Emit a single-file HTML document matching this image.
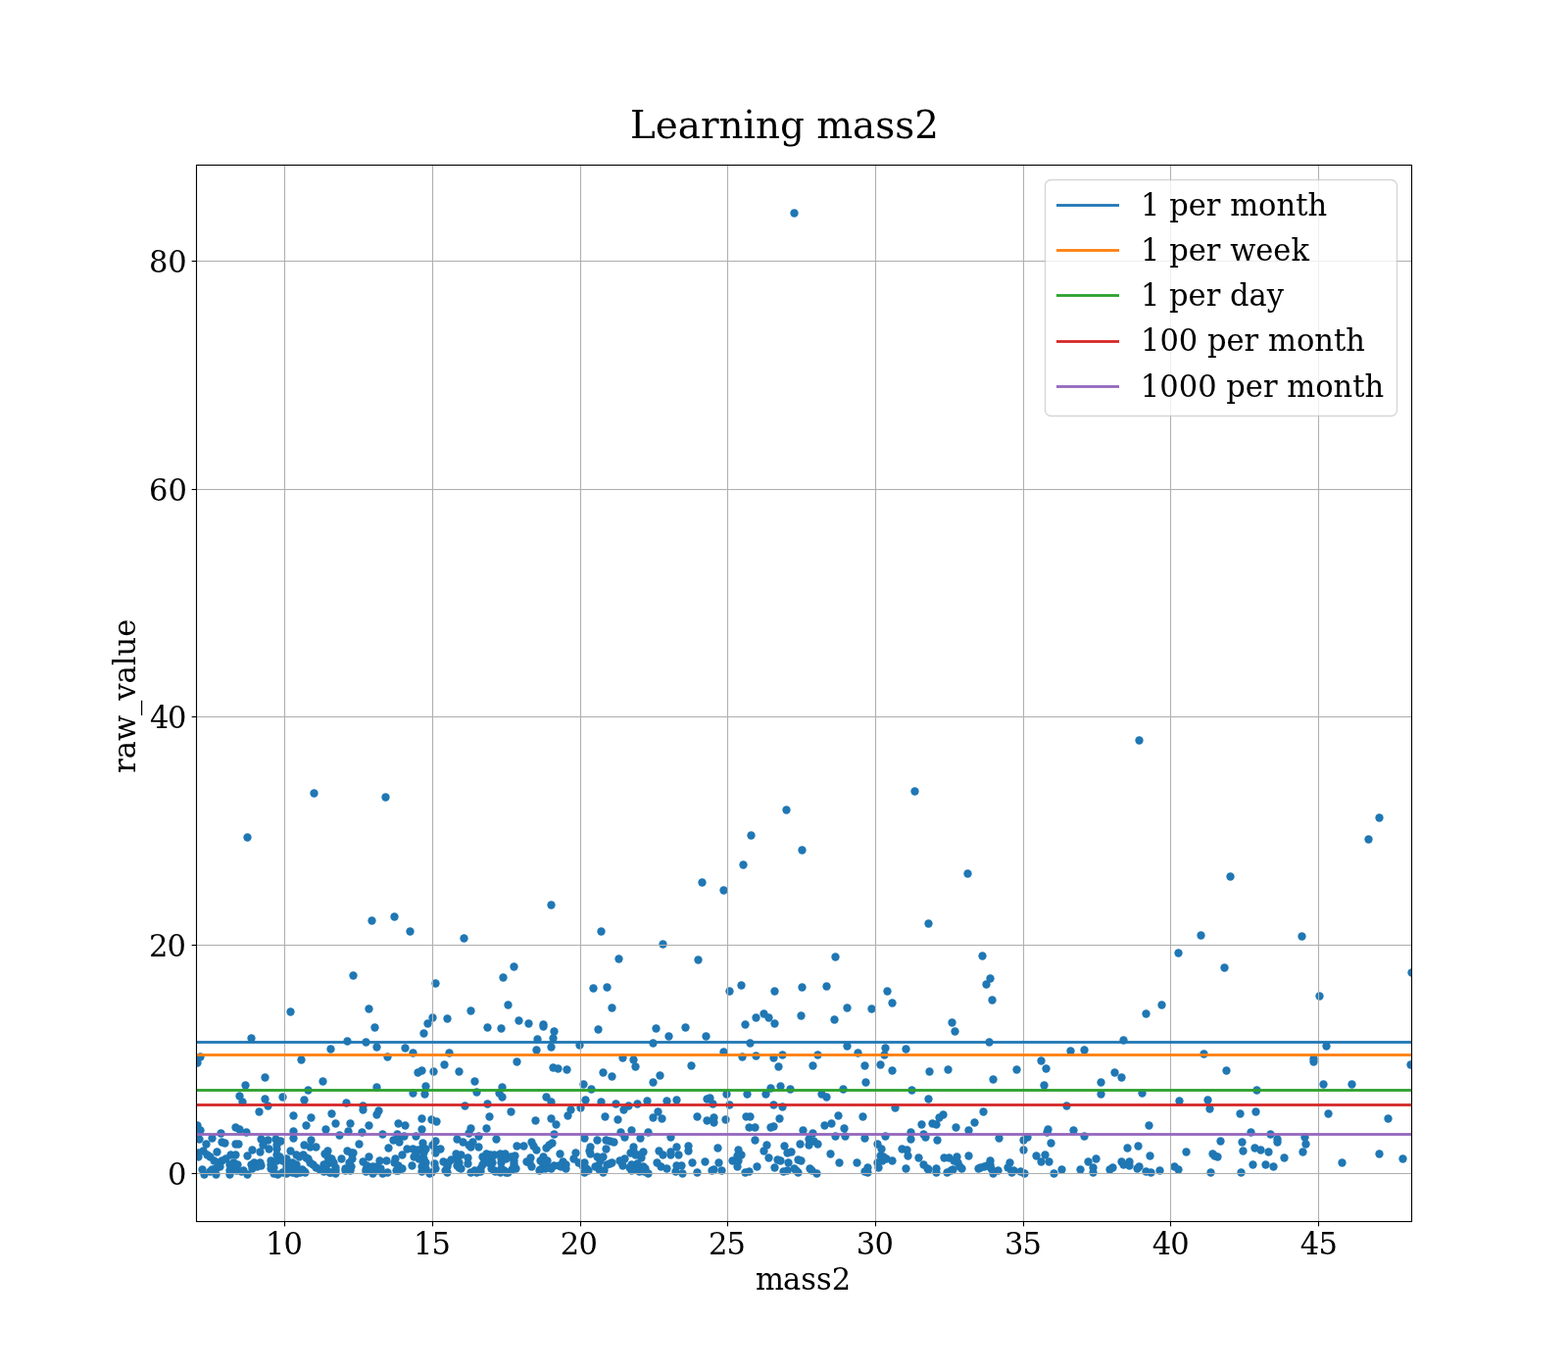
<!DOCTYPE html>
<html lang="en"><head><meta charset="utf-8"><title>Learning mass2</title>
<style>
html,body{margin:0;padding:0;background:#fff;}
body{width:1600px;height:1400px;overflow:hidden;}
svg{display:block;}
text{font-family:'DejaVu Serif', 'Liberation Serif', serif;fill:#000;}
.t{font-size:30.5556px;}
.title{font-size:38.8889px;}
.grid{fill:#b0b0b0;}
.tick{fill:#000;}
.spine{stroke:#000;stroke-width:1.1111;fill:none;stroke-linecap:square;}
.pt{fill:#1f77b4;}
</style></head><body>
<svg width="1600" height="1400" viewBox="0 0 1600 1400">
<defs><clipPath id="ax"><rect x="200" y="168" width="1240" height="1078"/></clipPath></defs>
<rect x="0" y="0" width="1600" height="1400" fill="#fff"/>
<g class="pt" clip-path="url(#ax)">
<circle cx="810.5" cy="217.5" r="4.17"/>
<circle cx="1162.5" cy="755.5" r="4.17"/>
<circle cx="933.5" cy="807.5" r="4.17"/>
<circle cx="320.5" cy="809.5" r="4.17"/>
<circle cx="393.5" cy="813.5" r="4.17"/>
<circle cx="802.5" cy="826.5" r="4.17"/>
<circle cx="1407.5" cy="834.5" r="4.17"/>
<circle cx="766.5" cy="852.5" r="4.17"/>
<circle cx="252.5" cy="854.5" r="4.17"/>
<circle cx="1396.5" cy="856.5" r="4.17"/>
<circle cx="818.5" cy="867.5" r="4.17"/>
<circle cx="758.5" cy="882.5" r="4.17"/>
<circle cx="987.5" cy="891.5" r="4.17"/>
<circle cx="1255.5" cy="894.5" r="4.17"/>
<circle cx="716.5" cy="900.5" r="4.17"/>
<circle cx="738.5" cy="908.5" r="4.17"/>
<circle cx="562.5" cy="923.5" r="4.17"/>
<circle cx="402.5" cy="935.5" r="4.17"/>
<circle cx="379.5" cy="939.5" r="4.17"/>
<circle cx="947.5" cy="942.5" r="4.17"/>
<circle cx="418.5" cy="950.5" r="4.17"/>
<circle cx="613.5" cy="950.5" r="4.17"/>
<circle cx="1225.5" cy="954.5" r="4.17"/>
<circle cx="1328.5" cy="955.5" r="4.17"/>
<circle cx="473.5" cy="957.5" r="4.17"/>
<circle cx="676.5" cy="963.5" r="4.17"/>
<circle cx="1202.5" cy="972.5" r="4.17"/>
<circle cx="1002.5" cy="975.5" r="4.17"/>
<circle cx="852.5" cy="976.5" r="4.17"/>
<circle cx="631.5" cy="978.5" r="4.17"/>
<circle cx="712.5" cy="979.5" r="4.17"/>
<circle cx="524.5" cy="986.5" r="4.17"/>
<circle cx="1249.5" cy="987.5" r="4.17"/>
<circle cx="1440.5" cy="992.5" r="4.17"/>
<circle cx="360.5" cy="995.5" r="4.17"/>
<circle cx="513.5" cy="997.5" r="4.17"/>
<circle cx="1010.5" cy="998.5" r="4.17"/>
<circle cx="444.5" cy="1003.5" r="4.17"/>
<circle cx="1006.5" cy="1004.5" r="4.17"/>
<circle cx="756.5" cy="1005.5" r="4.17"/>
<circle cx="843.5" cy="1006.5" r="4.17"/>
<circle cx="619.5" cy="1007.5" r="4.17"/>
<circle cx="818.5" cy="1007.5" r="4.17"/>
<circle cx="605.5" cy="1008.5" r="4.17"/>
<circle cx="744.5" cy="1011.5" r="4.17"/>
<circle cx="790.5" cy="1011.5" r="4.17"/>
<circle cx="905.5" cy="1011.5" r="4.17"/>
<circle cx="1346.5" cy="1016.5" r="4.17"/>
<circle cx="1012.5" cy="1020.5" r="4.17"/>
<circle cx="910.5" cy="1023.5" r="4.17"/>
<circle cx="518.5" cy="1025.5" r="4.17"/>
<circle cx="1185.5" cy="1025.5" r="4.17"/>
<circle cx="624.5" cy="1028.5" r="4.17"/>
<circle cx="864.5" cy="1028.5" r="4.17"/>
<circle cx="376.5" cy="1029.5" r="4.17"/>
<circle cx="889.5" cy="1029.5" r="4.17"/>
<circle cx="480.5" cy="1031.5" r="4.17"/>
<circle cx="296.5" cy="1032.5" r="4.17"/>
<circle cx="779.5" cy="1034.5" r="4.17"/>
<circle cx="1169.5" cy="1034.5" r="4.17"/>
<circle cx="817.5" cy="1036.5" r="4.17"/>
<circle cx="441.5" cy="1038.5" r="4.17"/>
<circle cx="771.5" cy="1038.5" r="4.17"/>
<circle cx="784.5" cy="1038.5" r="4.17"/>
<circle cx="456.5" cy="1039.5" r="4.17"/>
<circle cx="851.5" cy="1040.5" r="4.17"/>
<circle cx="529.5" cy="1041.5" r="4.17"/>
<circle cx="971.5" cy="1043.5" r="4.17"/>
<circle cx="436.5" cy="1044.5" r="4.17"/>
<circle cx="539.5" cy="1044.5" r="4.17"/>
<circle cx="790.5" cy="1044.5" r="4.17"/>
<circle cx="554.5" cy="1045.5" r="4.17"/>
<circle cx="760.5" cy="1045.5" r="4.17"/>
<circle cx="554.5" cy="1047.5" r="4.17"/>
<circle cx="382.5" cy="1048.5" r="4.17"/>
<circle cx="497.5" cy="1048.5" r="4.17"/>
<circle cx="699.5" cy="1048.5" r="4.17"/>
<circle cx="511.5" cy="1049.5" r="4.17"/>
<circle cx="669.5" cy="1049.5" r="4.17"/>
<circle cx="610.5" cy="1050.5" r="4.17"/>
<circle cx="565.5" cy="1052.5" r="4.17"/>
<circle cx="974.5" cy="1052.5" r="4.17"/>
<circle cx="432.5" cy="1054.5" r="4.17"/>
<circle cx="682.5" cy="1057.5" r="4.17"/>
<circle cx="720.5" cy="1057.5" r="4.17"/>
<circle cx="256.5" cy="1059.5" r="4.17"/>
<circle cx="564.5" cy="1059.5" r="4.17"/>
<circle cx="548.5" cy="1060.5" r="4.17"/>
<circle cx="1146.5" cy="1061.5" r="4.17"/>
<circle cx="354.5" cy="1062.5" r="4.17"/>
<circle cx="373.5" cy="1063.5" r="4.17"/>
<circle cx="1009.5" cy="1063.5" r="4.17"/>
<circle cx="666.5" cy="1064.5" r="4.17"/>
<circle cx="765.5" cy="1064.5" r="4.17"/>
<circle cx="591.5" cy="1066.5" r="4.17"/>
<circle cx="864.5" cy="1067.5" r="4.17"/>
<circle cx="1353.5" cy="1067.5" r="4.17"/>
<circle cx="384.5" cy="1068.5" r="4.17"/>
<circle cx="562.5" cy="1068.5" r="4.17"/>
<circle cx="413.5" cy="1069.5" r="4.17"/>
<circle cx="903.5" cy="1069.5" r="4.17"/>
<circle cx="337.5" cy="1070.5" r="4.17"/>
<circle cx="924.5" cy="1070.5" r="4.17"/>
<circle cx="547.5" cy="1071.5" r="4.17"/>
<circle cx="1106.5" cy="1071.5" r="4.17"/>
<circle cx="1092.5" cy="1072.5" r="4.17"/>
<circle cx="738.5" cy="1073.5" r="4.17"/>
<circle cx="421.5" cy="1074.5" r="4.17"/>
<circle cx="458.5" cy="1074.5" r="4.17"/>
<circle cx="875.5" cy="1074.5" r="4.17"/>
<circle cx="1228.5" cy="1075.5" r="4.17"/>
<circle cx="798.5" cy="1076.5" r="4.17"/>
<circle cx="834.5" cy="1076.5" r="4.17"/>
<circle cx="902.5" cy="1076.5" r="4.17"/>
<circle cx="771.5" cy="1077.5" r="4.17"/>
<circle cx="204.5" cy="1078.5" r="4.17"/>
<circle cx="395.5" cy="1078.5" r="4.17"/>
<circle cx="757.5" cy="1078.5" r="4.17"/>
<circle cx="635.5" cy="1079.5" r="4.17"/>
<circle cx="789.5" cy="1079.5" r="4.17"/>
<circle cx="1340.5" cy="1080.5" r="4.17"/>
<circle cx="307.5" cy="1081.5" r="4.17"/>
<circle cx="646.5" cy="1081.5" r="4.17"/>
<circle cx="1062.5" cy="1082.5" r="4.17"/>
<circle cx="527.5" cy="1083.5" r="4.17"/>
<circle cx="1340.5" cy="1083.5" r="4.17"/>
<circle cx="201.5" cy="1084.5" r="4.17"/>
<circle cx="453.5" cy="1086.5" r="4.17"/>
<circle cx="898.5" cy="1086.5" r="4.17"/>
<circle cx="1439.5" cy="1086.5" r="4.17"/>
<circle cx="705.5" cy="1087.5" r="4.17"/>
<circle cx="829.5" cy="1087.5" r="4.17"/>
<circle cx="882.5" cy="1087.5" r="4.17"/>
<circle cx="648.5" cy="1088.5" r="4.17"/>
<circle cx="794.5" cy="1088.5" r="4.17"/>
<circle cx="564.5" cy="1089.5" r="4.17"/>
<circle cx="569.5" cy="1090.5" r="4.17"/>
<circle cx="1067.5" cy="1090.5" r="4.17"/>
<circle cx="578.5" cy="1091.5" r="4.17"/>
<circle cx="967.5" cy="1091.5" r="4.17"/>
<circle cx="1037.5" cy="1091.5" r="4.17"/>
<circle cx="430.5" cy="1092.5" r="4.17"/>
<circle cx="910.5" cy="1092.5" r="4.17"/>
<circle cx="1251.5" cy="1092.5" r="4.17"/>
<circle cx="442.5" cy="1093.5" r="4.17"/>
<circle cx="468.5" cy="1093.5" r="4.17"/>
<circle cx="948.5" cy="1093.5" r="4.17"/>
<circle cx="426.5" cy="1094.5" r="4.17"/>
<circle cx="615.5" cy="1094.5" r="4.17"/>
<circle cx="1137.5" cy="1094.5" r="4.17"/>
<circle cx="673.5" cy="1097.5" r="4.17"/>
<circle cx="624.5" cy="1098.5" r="4.17"/>
<circle cx="270.5" cy="1099.5" r="4.17"/>
<circle cx="1144.5" cy="1099.5" r="4.17"/>
<circle cx="1013.5" cy="1101.5" r="4.17"/>
<circle cx="329.5" cy="1103.5" r="4.17"/>
<circle cx="484.5" cy="1103.5" r="4.17"/>
<circle cx="666.5" cy="1104.5" r="4.17"/>
<circle cx="883.5" cy="1104.5" r="4.17"/>
<circle cx="1123.5" cy="1104.5" r="4.17"/>
<circle cx="595.5" cy="1106.5" r="4.17"/>
<circle cx="1350.5" cy="1106.5" r="4.17"/>
<circle cx="1379.5" cy="1106.5" r="4.17"/>
<circle cx="250.5" cy="1107.5" r="4.17"/>
<circle cx="1065.5" cy="1107.5" r="4.17"/>
<circle cx="434.5" cy="1108.5" r="4.17"/>
<circle cx="796.5" cy="1108.5" r="4.17"/>
<circle cx="384.5" cy="1109.5" r="4.17"/>
<circle cx="512.5" cy="1109.5" r="4.17"/>
<circle cx="786.5" cy="1110.5" r="4.17"/>
<circle cx="603.5" cy="1111.5" r="4.17"/>
<circle cx="806.5" cy="1111.5" r="4.17"/>
<circle cx="860.5" cy="1111.5" r="4.17"/>
<circle cx="314.5" cy="1112.5" r="4.17"/>
<circle cx="930.5" cy="1112.5" r="4.17"/>
<circle cx="1282.5" cy="1112.5" r="4.17"/>
<circle cx="486.5" cy="1114.5" r="4.17"/>
<circle cx="421.5" cy="1115.5" r="4.17"/>
<circle cx="509.5" cy="1115.5" r="4.17"/>
<circle cx="1165.5" cy="1115.5" r="4.17"/>
<circle cx="433.5" cy="1116.5" r="4.17"/>
<circle cx="741.5" cy="1116.5" r="4.17"/>
<circle cx="762.5" cy="1116.5" r="4.17"/>
<circle cx="781.5" cy="1116.5" r="4.17"/>
<circle cx="838.5" cy="1116.5" r="4.17"/>
<circle cx="1123.5" cy="1116.5" r="4.17"/>
<circle cx="244.5" cy="1118.5" r="4.17"/>
<circle cx="288.5" cy="1119.5" r="4.17"/>
<circle cx="512.5" cy="1119.5" r="4.17"/>
<circle cx="557.5" cy="1119.5" r="4.17"/>
<circle cx="843.5" cy="1119.5" r="4.17"/>
<circle cx="724.5" cy="1120.5" r="4.17"/>
<circle cx="270.5" cy="1121.5" r="4.17"/>
<circle cx="721.5" cy="1121.5" r="4.17"/>
<circle cx="947.5" cy="1121.5" r="4.17"/>
<circle cx="310.5" cy="1122.5" r="4.17"/>
<circle cx="597.5" cy="1122.5" r="4.17"/>
<circle cx="690.5" cy="1122.5" r="4.17"/>
<circle cx="1232.5" cy="1122.5" r="4.17"/>
<circle cx="660.5" cy="1123.5" r="4.17"/>
<circle cx="680.5" cy="1123.5" r="4.17"/>
<circle cx="1203.5" cy="1123.5" r="4.17"/>
<circle cx="247.5" cy="1124.5" r="4.17"/>
<circle cx="562.5" cy="1124.5" r="4.17"/>
<circle cx="613.5" cy="1124.5" r="4.17"/>
<circle cx="353.5" cy="1125.5" r="4.17"/>
<circle cx="497.5" cy="1126.5" r="4.17"/>
<circle cx="628.5" cy="1126.5" r="4.17"/>
<circle cx="650.5" cy="1126.5" r="4.17"/>
<circle cx="727.5" cy="1126.5" r="4.17"/>
<circle cx="744.5" cy="1127.5" r="4.17"/>
<circle cx="789.5" cy="1127.5" r="4.17"/>
<circle cx="273.5" cy="1128.5" r="4.17"/>
<circle cx="370.5" cy="1128.5" r="4.17"/>
<circle cx="474.5" cy="1128.5" r="4.17"/>
<circle cx="641.5" cy="1128.5" r="4.17"/>
<circle cx="1088.5" cy="1128.5" r="4.17"/>
<circle cx="798.5" cy="1129.5" r="4.17"/>
<circle cx="592.5" cy="1130.5" r="4.17"/>
<circle cx="913.5" cy="1130.5" r="4.17"/>
<circle cx="1234.5" cy="1131.5" r="4.17"/>
<circle cx="370.5" cy="1132.5" r="4.17"/>
<circle cx="582.5" cy="1132.5" r="4.17"/>
<circle cx="636.5" cy="1132.5" r="4.17"/>
<circle cx="386.5" cy="1133.5" r="4.17"/>
<circle cx="264.5" cy="1134.5" r="4.17"/>
<circle cx="521.5" cy="1134.5" r="4.17"/>
<circle cx="671.5" cy="1134.5" r="4.17"/>
<circle cx="1003.5" cy="1134.5" r="4.17"/>
<circle cx="1281.5" cy="1134.5" r="4.17"/>
<circle cx="338.5" cy="1136.5" r="4.17"/>
<circle cx="1265.5" cy="1136.5" r="4.17"/>
<circle cx="1355.5" cy="1136.5" r="4.17"/>
<circle cx="384.5" cy="1137.5" r="4.17"/>
<circle cx="962.5" cy="1137.5" r="4.17"/>
<circle cx="299.5" cy="1138.5" r="4.17"/>
<circle cx="579.5" cy="1138.5" r="4.17"/>
<circle cx="855.5" cy="1138.5" r="4.17"/>
<circle cx="499.5" cy="1139.5" r="4.17"/>
<circle cx="617.5" cy="1139.5" r="4.17"/>
<circle cx="711.5" cy="1139.5" r="4.17"/>
<circle cx="761.5" cy="1139.5" r="4.17"/>
<circle cx="765.5" cy="1139.5" r="4.17"/>
<circle cx="880.5" cy="1139.5" r="4.17"/>
<circle cx="317.5" cy="1140.5" r="4.17"/>
<circle cx="666.5" cy="1140.5" r="4.17"/>
<circle cx="728.5" cy="1140.5" r="4.17"/>
<circle cx="958.5" cy="1140.5" r="4.17"/>
<circle cx="430.5" cy="1141.5" r="4.17"/>
<circle cx="562.5" cy="1141.5" r="4.17"/>
<circle cx="675.5" cy="1141.5" r="4.17"/>
<circle cx="795.5" cy="1141.5" r="4.17"/>
<circle cx="1416.5" cy="1141.5" r="4.17"/>
<circle cx="440.5" cy="1142.5" r="4.17"/>
<circle cx="630.5" cy="1142.5" r="4.17"/>
<circle cx="740.5" cy="1142.5" r="4.17"/>
<circle cx="546.5" cy="1143.5" r="4.17"/>
<circle cx="721.5" cy="1143.5" r="4.17"/>
<circle cx="445.5" cy="1144.5" r="4.17"/>
<circle cx="728.5" cy="1145.5" r="4.17"/>
<circle cx="994.5" cy="1145.5" r="4.17"/>
<circle cx="342.5" cy="1146.5" r="4.17"/>
<circle cx="357.5" cy="1146.5" r="4.17"/>
<circle cx="406.5" cy="1146.5" r="4.17"/>
<circle cx="848.5" cy="1146.5" r="4.17"/>
<circle cx="951.5" cy="1146.5" r="4.17"/>
<circle cx="567.5" cy="1147.5" r="4.17"/>
<circle cx="940.5" cy="1147.5" r="4.17"/>
<circle cx="955.5" cy="1147.5" r="4.17"/>
<circle cx="201.5" cy="1148.5" r="4.17"/>
<circle cx="312.5" cy="1148.5" r="4.17"/>
<circle cx="376.5" cy="1148.5" r="4.17"/>
<circle cx="413.5" cy="1148.5" r="4.17"/>
<circle cx="841.5" cy="1148.5" r="4.17"/>
<circle cx="1172.5" cy="1148.5" r="4.17"/>
<circle cx="789.5" cy="1149.5" r="4.17"/>
<circle cx="240.5" cy="1150.5" r="4.17"/>
<circle cx="764.5" cy="1150.5" r="4.17"/>
<circle cx="770.5" cy="1150.5" r="4.17"/>
<circle cx="786.5" cy="1150.5" r="4.17"/>
<circle cx="975.5" cy="1150.5" r="4.17"/>
<circle cx="480.5" cy="1151.5" r="4.17"/>
<circle cx="496.5" cy="1151.5" r="4.17"/>
<circle cx="861.5" cy="1151.5" r="4.17"/>
<circle cx="244.5" cy="1152.5" r="4.17"/>
<circle cx="332.5" cy="1152.5" r="4.17"/>
<circle cx="430.5" cy="1152.5" r="4.17"/>
<circle cx="1069.5" cy="1152.5" r="4.17"/>
<circle cx="204.5" cy="1153.5" r="4.17"/>
<circle cx="644.5" cy="1153.5" r="4.17"/>
<circle cx="819.5" cy="1153.5" r="4.17"/>
<circle cx="988.5" cy="1153.5" r="4.17"/>
<circle cx="1095.5" cy="1153.5" r="4.17"/>
<circle cx="299.5" cy="1154.5" r="4.17"/>
<circle cx="355.5" cy="1154.5" r="4.17"/>
<circle cx="251.5" cy="1155.5" r="4.17"/>
<circle cx="369.5" cy="1155.5" r="4.17"/>
<circle cx="633.5" cy="1155.5" r="4.17"/>
<circle cx="661.5" cy="1155.5" r="4.17"/>
<circle cx="929.5" cy="1155.5" r="4.17"/>
<circle cx="1068.5" cy="1155.5" r="4.17"/>
<circle cx="1276.5" cy="1155.5" r="4.17"/>
<circle cx="225.5" cy="1156.5" r="4.17"/>
<circle cx="478.5" cy="1156.5" r="4.17"/>
<circle cx="829.5" cy="1156.5" r="4.17"/>
<circle cx="390.5" cy="1157.5" r="4.17"/>
<circle cx="405.5" cy="1157.5" r="4.17"/>
<circle cx="565.5" cy="1157.5" r="4.17"/>
<circle cx="942.5" cy="1157.5" r="4.17"/>
<circle cx="1296.5" cy="1157.5" r="4.17"/>
<circle cx="346.5" cy="1158.5" r="4.17"/>
<circle cx="412.5" cy="1159.5" r="4.17"/>
<circle cx="424.5" cy="1159.5" r="4.17"/>
<circle cx="488.5" cy="1159.5" r="4.17"/>
<circle cx="852.5" cy="1159.5" r="4.17"/>
<circle cx="862.5" cy="1159.5" r="4.17"/>
<circle cx="903.5" cy="1159.5" r="4.17"/>
<circle cx="1106.5" cy="1159.5" r="4.17"/>
<circle cx="407.5" cy="1160.5" r="4.17"/>
<circle cx="637.5" cy="1160.5" r="4.17"/>
<circle cx="684.5" cy="1160.5" r="4.17"/>
<circle cx="944.5" cy="1160.5" r="4.17"/>
<circle cx="1048.5" cy="1160.5" r="4.17"/>
<circle cx="1331.5" cy="1160.5" r="4.17"/>
<circle cx="216.5" cy="1161.5" r="4.17"/>
<circle cx="299.5" cy="1161.5" r="4.17"/>
<circle cx="596.5" cy="1161.5" r="4.17"/>
<circle cx="653.5" cy="1161.5" r="4.17"/>
<circle cx="882.5" cy="1161.5" r="4.17"/>
<circle cx="1019.5" cy="1161.5" r="4.17"/>
<circle cx="203.5" cy="1162.5" r="4.17"/>
<circle cx="266.5" cy="1162.5" r="4.17"/>
<circle cx="281.5" cy="1162.5" r="4.17"/>
<circle cx="466.5" cy="1162.5" r="4.17"/>
<circle cx="506.5" cy="1162.5" r="4.17"/>
<circle cx="825.5" cy="1162.5" r="4.17"/>
<circle cx="929.5" cy="1162.5" r="4.17"/>
<circle cx="1303.5" cy="1162.5" r="4.17"/>
<circle cx="273.5" cy="1163.5" r="4.17"/>
<circle cx="317.5" cy="1163.5" r="4.17"/>
<circle cx="401.5" cy="1163.5" r="4.17"/>
<circle cx="609.5" cy="1163.5" r="4.17"/>
<circle cx="618.5" cy="1163.5" r="4.17"/>
<circle cx="770.5" cy="1163.5" r="4.17"/>
<circle cx="956.5" cy="1163.5" r="4.17"/>
<circle cx="1044.5" cy="1163.5" r="4.17"/>
<circle cx="286.5" cy="1164.5" r="4.17"/>
<circle cx="444.5" cy="1164.5" r="4.17"/>
<circle cx="622.5" cy="1164.5" r="4.17"/>
<circle cx="830.5" cy="1164.5" r="4.17"/>
<circle cx="1245.5" cy="1164.5" r="4.17"/>
<circle cx="226.5" cy="1165.5" r="4.17"/>
<circle cx="407.5" cy="1165.5" r="4.17"/>
<circle cx="472.5" cy="1165.5" r="4.17"/>
<circle cx="482.5" cy="1165.5" r="4.17"/>
<circle cx="542.5" cy="1165.5" r="4.17"/>
<circle cx="626.5" cy="1165.5" r="4.17"/>
<circle cx="1267.5" cy="1165.5" r="4.17"/>
<circle cx="1303.5" cy="1165.5" r="4.17"/>
<circle cx="229.5" cy="1166.5" r="4.17"/>
<circle cx="431.5" cy="1166.5" r="4.17"/>
<circle cx="563.5" cy="1166.5" r="4.17"/>
<circle cx="1072.5" cy="1166.5" r="4.17"/>
<circle cx="210.5" cy="1167.5" r="4.17"/>
<circle cx="240.5" cy="1167.5" r="4.17"/>
<circle cx="243.5" cy="1167.5" r="4.17"/>
<circle cx="366.5" cy="1167.5" r="4.17"/>
<circle cx="816.5" cy="1167.5" r="4.17"/>
<circle cx="834.5" cy="1167.5" r="4.17"/>
<circle cx="895.5" cy="1167.5" r="4.17"/>
<circle cx="1332.5" cy="1167.5" r="4.17"/>
<circle cx="268.5" cy="1168.5" r="4.17"/>
<circle cx="282.5" cy="1168.5" r="4.17"/>
<circle cx="310.5" cy="1168.5" r="4.17"/>
<circle cx="441.5" cy="1168.5" r="4.17"/>
<circle cx="478.5" cy="1168.5" r="4.17"/>
<circle cx="560.5" cy="1168.5" r="4.17"/>
<circle cx="782.5" cy="1168.5" r="4.17"/>
<circle cx="825.5" cy="1168.5" r="4.17"/>
<circle cx="527.5" cy="1169.5" r="4.17"/>
<circle cx="534.5" cy="1169.5" r="4.17"/>
<circle cx="544.5" cy="1169.5" r="4.17"/>
<circle cx="702.5" cy="1169.5" r="4.17"/>
<circle cx="800.5" cy="1169.5" r="4.17"/>
<circle cx="1161.5" cy="1169.5" r="4.17"/>
<circle cx="316.5" cy="1170.5" r="4.17"/>
<circle cx="322.5" cy="1170.5" r="4.17"/>
<circle cx="480.5" cy="1170.5" r="4.17"/>
<circle cx="488.5" cy="1170.5" r="4.17"/>
<circle cx="602.5" cy="1170.5" r="4.17"/>
<circle cx="646.5" cy="1170.5" r="4.17"/>
<circle cx="690.5" cy="1170.5" r="4.17"/>
<circle cx="396.5" cy="1171.5" r="4.17"/>
<circle cx="557.5" cy="1171.5" r="4.17"/>
<circle cx="732.5" cy="1171.5" r="4.17"/>
<circle cx="1150.5" cy="1171.5" r="4.17"/>
<circle cx="1280.5" cy="1171.5" r="4.17"/>
<circle cx="274.5" cy="1172.5" r="4.17"/>
<circle cx="282.5" cy="1172.5" r="4.17"/>
<circle cx="415.5" cy="1172.5" r="4.17"/>
<circle cx="421.5" cy="1172.5" r="4.17"/>
<circle cx="430.5" cy="1172.5" r="4.17"/>
<circle cx="434.5" cy="1172.5" r="4.17"/>
<circle cx="444.5" cy="1172.5" r="4.17"/>
<circle cx="449.5" cy="1172.5" r="4.17"/>
<circle cx="618.5" cy="1172.5" r="4.17"/>
<circle cx="899.5" cy="1172.5" r="4.17"/>
<circle cx="920.5" cy="1172.5" r="4.17"/>
<circle cx="257.5" cy="1173.5" r="4.17"/>
<circle cx="426.5" cy="1173.5" r="4.17"/>
<circle cx="547.5" cy="1173.5" r="4.17"/>
<circle cx="753.5" cy="1173.5" r="4.17"/>
<circle cx="925.5" cy="1173.5" r="4.17"/>
<circle cx="1044.5" cy="1173.5" r="4.17"/>
<circle cx="1286.5" cy="1173.5" r="4.17"/>
<circle cx="207.5" cy="1174.5" r="4.17"/>
<circle cx="296.5" cy="1174.5" r="4.17"/>
<circle cx="334.5" cy="1174.5" r="4.17"/>
<circle cx="354.5" cy="1174.5" r="4.17"/>
<circle cx="601.5" cy="1174.5" r="4.17"/>
<circle cx="646.5" cy="1174.5" r="4.17"/>
<circle cx="672.5" cy="1174.5" r="4.17"/>
<circle cx="702.5" cy="1174.5" r="4.17"/>
<circle cx="779.5" cy="1174.5" r="4.17"/>
<circle cx="1268.5" cy="1174.5" r="4.17"/>
<circle cx="221.5" cy="1175.5" r="4.17"/>
<circle cx="265.5" cy="1175.5" r="4.17"/>
<circle cx="656.5" cy="1175.5" r="4.17"/>
<circle cx="684.5" cy="1175.5" r="4.17"/>
<circle cx="807.5" cy="1175.5" r="4.17"/>
<circle cx="1210.5" cy="1175.5" r="4.17"/>
<circle cx="1294.5" cy="1175.5" r="4.17"/>
<circle cx="1329.5" cy="1175.5" r="4.17"/>
<circle cx="202.5" cy="1176.5" r="4.17"/>
<circle cx="358.5" cy="1176.5" r="4.17"/>
<circle cx="360.5" cy="1176.5" r="4.17"/>
<circle cx="432.5" cy="1176.5" r="4.17"/>
<circle cx="444.5" cy="1176.5" r="4.17"/>
<circle cx="587.5" cy="1176.5" r="4.17"/>
<circle cx="643.5" cy="1176.5" r="4.17"/>
<circle cx="803.5" cy="1176.5" r="4.17"/>
<circle cx="331.5" cy="1177.5" r="4.17"/>
<circle cx="424.5" cy="1177.5" r="4.17"/>
<circle cx="465.5" cy="1177.5" r="4.17"/>
<circle cx="496.5" cy="1177.5" r="4.17"/>
<circle cx="510.5" cy="1177.5" r="4.17"/>
<circle cx="515.5" cy="1177.5" r="4.17"/>
<circle cx="571.5" cy="1177.5" r="4.17"/>
<circle cx="602.5" cy="1177.5" r="4.17"/>
<circle cx="847.5" cy="1177.5" r="4.17"/>
<circle cx="1237.5" cy="1177.5" r="4.17"/>
<circle cx="1407.5" cy="1177.5" r="4.17"/>
<circle cx="211.5" cy="1178.5" r="4.17"/>
<circle cx="235.5" cy="1178.5" r="4.17"/>
<circle cx="240.5" cy="1178.5" r="4.17"/>
<circle cx="282.5" cy="1178.5" r="4.17"/>
<circle cx="302.5" cy="1178.5" r="4.17"/>
<circle cx="309.5" cy="1178.5" r="4.17"/>
<circle cx="410.5" cy="1178.5" r="4.17"/>
<circle cx="470.5" cy="1178.5" r="4.17"/>
<circle cx="500.5" cy="1178.5" r="4.17"/>
<circle cx="504.5" cy="1178.5" r="4.17"/>
<circle cx="648.5" cy="1178.5" r="4.17"/>
<circle cx="652.5" cy="1178.5" r="4.17"/>
<circle cx="676.5" cy="1178.5" r="4.17"/>
<circle cx="684.5" cy="1178.5" r="4.17"/>
<circle cx="692.5" cy="1178.5" r="4.17"/>
<circle cx="756.5" cy="1178.5" r="4.17"/>
<circle cx="1066.5" cy="1178.5" r="4.17"/>
<circle cx="252.5" cy="1179.5" r="4.17"/>
<circle cx="525.5" cy="1179.5" r="4.17"/>
<circle cx="752.5" cy="1179.5" r="4.17"/>
<circle cx="898.5" cy="1179.5" r="4.17"/>
<circle cx="926.5" cy="1179.5" r="4.17"/>
<circle cx="988.5" cy="1179.5" r="4.17"/>
<circle cx="1057.5" cy="1179.5" r="4.17"/>
<circle cx="1173.5" cy="1179.5" r="4.17"/>
<circle cx="1239.5" cy="1179.5" r="4.17"/>
<circle cx="202.5" cy="1180.5" r="4.17"/>
<circle cx="214.5" cy="1180.5" r="4.17"/>
<circle cx="285.5" cy="1180.5" r="4.17"/>
<circle cx="305.5" cy="1180.5" r="4.17"/>
<circle cx="334.5" cy="1180.5" r="4.17"/>
<circle cx="376.5" cy="1180.5" r="4.17"/>
<circle cx="422.5" cy="1180.5" r="4.17"/>
<circle cx="492.5" cy="1180.5" r="4.17"/>
<circle cx="521.5" cy="1180.5" r="4.17"/>
<circle cx="554.5" cy="1180.5" r="4.17"/>
<circle cx="609.5" cy="1180.5" r="4.17"/>
<circle cx="615.5" cy="1180.5" r="4.17"/>
<circle cx="901.5" cy="1180.5" r="4.17"/>
<circle cx="976.5" cy="1180.5" r="4.17"/>
<circle cx="1242.5" cy="1180.5" r="4.17"/>
<circle cx="312.5" cy="1181.5" r="4.17"/>
<circle cx="477.5" cy="1181.5" r="4.17"/>
<circle cx="541.5" cy="1181.5" r="4.17"/>
<circle cx="654.5" cy="1181.5" r="4.17"/>
<circle cx="784.5" cy="1181.5" r="4.17"/>
<circle cx="937.5" cy="1181.5" r="4.17"/>
<circle cx="963.5" cy="1181.5" r="4.17"/>
<circle cx="968.5" cy="1181.5" r="4.17"/>
<circle cx="1310.5" cy="1181.5" r="4.17"/>
<circle cx="230.5" cy="1182.5" r="4.17"/>
<circle cx="292.5" cy="1182.5" r="4.17"/>
<circle cx="314.5" cy="1182.5" r="4.17"/>
<circle cx="338.5" cy="1182.5" r="4.17"/>
<circle cx="348.5" cy="1182.5" r="4.17"/>
<circle cx="359.5" cy="1182.5" r="4.17"/>
<circle cx="403.5" cy="1182.5" r="4.17"/>
<circle cx="427.5" cy="1182.5" r="4.17"/>
<circle cx="432.5" cy="1182.5" r="4.17"/>
<circle cx="466.5" cy="1182.5" r="4.17"/>
<circle cx="501.5" cy="1182.5" r="4.17"/>
<circle cx="511.5" cy="1182.5" r="4.17"/>
<circle cx="516.5" cy="1182.5" r="4.17"/>
<circle cx="585.5" cy="1182.5" r="4.17"/>
<circle cx="612.5" cy="1182.5" r="4.17"/>
<circle cx="637.5" cy="1182.5" r="4.17"/>
<circle cx="904.5" cy="1182.5" r="4.17"/>
<circle cx="1118.5" cy="1182.5" r="4.17"/>
<circle cx="1431.5" cy="1182.5" r="4.17"/>
<circle cx="460.5" cy="1183.5" r="4.17"/>
<circle cx="793.5" cy="1183.5" r="4.17"/>
<circle cx="814.5" cy="1183.5" r="4.17"/>
<circle cx="218.5" cy="1184.5" r="4.17"/>
<circle cx="226.5" cy="1184.5" r="4.17"/>
<circle cx="276.5" cy="1184.5" r="4.17"/>
<circle cx="282.5" cy="1184.5" r="4.17"/>
<circle cx="288.5" cy="1184.5" r="4.17"/>
<circle cx="387.5" cy="1184.5" r="4.17"/>
<circle cx="394.5" cy="1184.5" r="4.17"/>
<circle cx="431.5" cy="1184.5" r="4.17"/>
<circle cx="494.5" cy="1184.5" r="4.17"/>
<circle cx="524.5" cy="1184.5" r="4.17"/>
<circle cx="551.5" cy="1184.5" r="4.17"/>
<circle cx="558.5" cy="1184.5" r="4.17"/>
<circle cx="612.5" cy="1184.5" r="4.17"/>
<circle cx="632.5" cy="1184.5" r="4.17"/>
<circle cx="747.5" cy="1184.5" r="4.17"/>
<circle cx="753.5" cy="1184.5" r="4.17"/>
<circle cx="796.5" cy="1184.5" r="4.17"/>
<circle cx="817.5" cy="1184.5" r="4.17"/>
<circle cx="900.5" cy="1184.5" r="4.17"/>
<circle cx="910.5" cy="1184.5" r="4.17"/>
<circle cx="973.5" cy="1184.5" r="4.17"/>
<circle cx="1010.5" cy="1184.5" r="4.17"/>
<circle cx="370.5" cy="1185.5" r="4.17"/>
<circle cx="452.5" cy="1185.5" r="4.17"/>
<circle cx="537.5" cy="1185.5" r="4.17"/>
<circle cx="574.5" cy="1185.5" r="4.17"/>
<circle cx="719.5" cy="1185.5" r="4.17"/>
<circle cx="1062.5" cy="1185.5" r="4.17"/>
<circle cx="1070.5" cy="1185.5" r="4.17"/>
<circle cx="1110.5" cy="1185.5" r="4.17"/>
<circle cx="1144.5" cy="1185.5" r="4.17"/>
<circle cx="1152.5" cy="1185.5" r="4.17"/>
<circle cx="222.5" cy="1186.5" r="4.17"/>
<circle cx="238.5" cy="1186.5" r="4.17"/>
<circle cx="259.5" cy="1186.5" r="4.17"/>
<circle cx="265.5" cy="1186.5" r="4.17"/>
<circle cx="298.5" cy="1186.5" r="4.17"/>
<circle cx="316.5" cy="1186.5" r="4.17"/>
<circle cx="334.5" cy="1186.5" r="4.17"/>
<circle cx="337.5" cy="1186.5" r="4.17"/>
<circle cx="340.5" cy="1186.5" r="4.17"/>
<circle cx="356.5" cy="1186.5" r="4.17"/>
<circle cx="402.5" cy="1186.5" r="4.17"/>
<circle cx="434.5" cy="1186.5" r="4.17"/>
<circle cx="457.5" cy="1186.5" r="4.17"/>
<circle cx="468.5" cy="1186.5" r="4.17"/>
<circle cx="498.5" cy="1186.5" r="4.17"/>
<circle cx="502.5" cy="1186.5" r="4.17"/>
<circle cx="511.5" cy="1186.5" r="4.17"/>
<circle cx="540.5" cy="1186.5" r="4.17"/>
<circle cx="590.5" cy="1186.5" r="4.17"/>
<circle cx="596.5" cy="1186.5" r="4.17"/>
<circle cx="624.5" cy="1186.5" r="4.17"/>
<circle cx="634.5" cy="1186.5" r="4.17"/>
<circle cx="670.5" cy="1186.5" r="4.17"/>
<circle cx="706.5" cy="1186.5" r="4.17"/>
<circle cx="733.5" cy="1186.5" r="4.17"/>
<circle cx="804.5" cy="1186.5" r="4.17"/>
<circle cx="856.5" cy="1186.5" r="4.17"/>
<circle cx="874.5" cy="1186.5" r="4.17"/>
<circle cx="895.5" cy="1186.5" r="4.17"/>
<circle cx="977.5" cy="1186.5" r="4.17"/>
<circle cx="1030.5" cy="1186.5" r="4.17"/>
<circle cx="1369.5" cy="1186.5" r="4.17"/>
<circle cx="443.5" cy="1187.5" r="4.17"/>
<circle cx="477.5" cy="1187.5" r="4.17"/>
<circle cx="524.5" cy="1187.5" r="4.17"/>
<circle cx="622.5" cy="1187.5" r="4.17"/>
<circle cx="650.5" cy="1187.5" r="4.17"/>
<circle cx="234.5" cy="1188.5" r="4.17"/>
<circle cx="242.5" cy="1188.5" r="4.17"/>
<circle cx="256.5" cy="1188.5" r="4.17"/>
<circle cx="276.5" cy="1188.5" r="4.17"/>
<circle cx="292.5" cy="1188.5" r="4.17"/>
<circle cx="302.5" cy="1188.5" r="4.17"/>
<circle cx="319.5" cy="1188.5" r="4.17"/>
<circle cx="330.5" cy="1188.5" r="4.17"/>
<circle cx="492.5" cy="1188.5" r="4.17"/>
<circle cx="554.5" cy="1188.5" r="4.17"/>
<circle cx="577.5" cy="1188.5" r="4.17"/>
<circle cx="619.5" cy="1188.5" r="4.17"/>
<circle cx="644.5" cy="1188.5" r="4.17"/>
<circle cx="942.5" cy="1188.5" r="4.17"/>
<circle cx="1010.5" cy="1188.5" r="4.17"/>
<circle cx="1146.5" cy="1188.5" r="4.17"/>
<circle cx="1278.5" cy="1188.5" r="4.17"/>
<circle cx="1291.5" cy="1188.5" r="4.17"/>
<circle cx="266.5" cy="1189.5" r="4.17"/>
<circle cx="374.5" cy="1189.5" r="4.17"/>
<circle cx="406.5" cy="1189.5" r="4.17"/>
<circle cx="420.5" cy="1189.5" r="4.17"/>
<circle cx="466.5" cy="1189.5" r="4.17"/>
<circle cx="565.5" cy="1189.5" r="4.17"/>
<circle cx="570.5" cy="1189.5" r="4.17"/>
<circle cx="594.5" cy="1189.5" r="4.17"/>
<circle cx="610.5" cy="1189.5" r="4.17"/>
<circle cx="635.5" cy="1189.5" r="4.17"/>
<circle cx="690.5" cy="1189.5" r="4.17"/>
<circle cx="695.5" cy="1189.5" r="4.17"/>
<circle cx="1007.5" cy="1189.5" r="4.17"/>
<circle cx="1152.5" cy="1189.5" r="4.17"/>
<circle cx="224.5" cy="1190.5" r="4.17"/>
<circle cx="262.5" cy="1190.5" r="4.17"/>
<circle cx="296.5" cy="1190.5" r="4.17"/>
<circle cx="332.5" cy="1190.5" r="4.17"/>
<circle cx="358.5" cy="1190.5" r="4.17"/>
<circle cx="380.5" cy="1190.5" r="4.17"/>
<circle cx="384.5" cy="1190.5" r="4.17"/>
<circle cx="430.5" cy="1190.5" r="4.17"/>
<circle cx="456.5" cy="1190.5" r="4.17"/>
<circle cx="524.5" cy="1190.5" r="4.17"/>
<circle cx="542.5" cy="1190.5" r="4.17"/>
<circle cx="572.5" cy="1190.5" r="4.17"/>
<circle cx="607.5" cy="1190.5" r="4.17"/>
<circle cx="656.5" cy="1190.5" r="4.17"/>
<circle cx="674.5" cy="1190.5" r="4.17"/>
<circle cx="752.5" cy="1190.5" r="4.17"/>
<circle cx="772.5" cy="1190.5" r="4.17"/>
<circle cx="979.5" cy="1190.5" r="4.17"/>
<circle cx="1004.5" cy="1190.5" r="4.17"/>
<circle cx="1162.5" cy="1190.5" r="4.17"/>
<circle cx="1198.5" cy="1190.5" r="4.17"/>
<circle cx="1299.5" cy="1190.5" r="4.17"/>
<circle cx="279.5" cy="1191.5" r="4.17"/>
<circle cx="292.5" cy="1191.5" r="4.17"/>
<circle cx="322.5" cy="1191.5" r="4.17"/>
<circle cx="342.5" cy="1191.5" r="4.17"/>
<circle cx="468.5" cy="1191.5" r="4.17"/>
<circle cx="560.5" cy="1191.5" r="4.17"/>
<circle cx="642.5" cy="1191.5" r="4.17"/>
<circle cx="790.5" cy="1191.5" r="4.17"/>
<circle cx="885.5" cy="1191.5" r="4.17"/>
<circle cx="896.5" cy="1191.5" r="4.17"/>
<circle cx="1000.5" cy="1191.5" r="4.17"/>
<circle cx="1028.5" cy="1191.5" r="4.17"/>
<circle cx="1115.5" cy="1191.5" r="4.17"/>
<circle cx="1135.5" cy="1191.5" r="4.17"/>
<circle cx="220.5" cy="1192.5" r="4.17"/>
<circle cx="238.5" cy="1192.5" r="4.17"/>
<circle cx="257.5" cy="1192.5" r="4.17"/>
<circle cx="276.5" cy="1192.5" r="4.17"/>
<circle cx="300.5" cy="1192.5" r="4.17"/>
<circle cx="352.5" cy="1192.5" r="4.17"/>
<circle cx="388.5" cy="1192.5" r="4.17"/>
<circle cx="410.5" cy="1192.5" r="4.17"/>
<circle cx="434.5" cy="1192.5" r="4.17"/>
<circle cx="444.5" cy="1192.5" r="4.17"/>
<circle cx="470.5" cy="1192.5" r="4.17"/>
<circle cx="490.5" cy="1192.5" r="4.17"/>
<circle cx="501.5" cy="1192.5" r="4.17"/>
<circle cx="511.5" cy="1192.5" r="4.17"/>
<circle cx="526.5" cy="1192.5" r="4.17"/>
<circle cx="556.5" cy="1192.5" r="4.17"/>
<circle cx="562.5" cy="1192.5" r="4.17"/>
<circle cx="577.5" cy="1192.5" r="4.17"/>
<circle cx="598.5" cy="1192.5" r="4.17"/>
<circle cx="652.5" cy="1192.5" r="4.17"/>
<circle cx="658.5" cy="1192.5" r="4.17"/>
<circle cx="680.5" cy="1192.5" r="4.17"/>
<circle cx="810.5" cy="1192.5" r="4.17"/>
<circle cx="826.5" cy="1192.5" r="4.17"/>
<circle cx="924.5" cy="1192.5" r="4.17"/>
<circle cx="946.5" cy="1192.5" r="4.17"/>
<circle cx="955.5" cy="1192.5" r="4.17"/>
<circle cx="981.5" cy="1192.5" r="4.17"/>
<circle cx="998.5" cy="1192.5" r="4.17"/>
<circle cx="1011.5" cy="1192.5" r="4.17"/>
<circle cx="1160.5" cy="1192.5" r="4.17"/>
<circle cx="206.5" cy="1193.5" r="4.17"/>
<circle cx="216.5" cy="1193.5" r="4.17"/>
<circle cx="304.5" cy="1193.5" r="4.17"/>
<circle cx="308.5" cy="1193.5" r="4.17"/>
<circle cx="326.5" cy="1193.5" r="4.17"/>
<circle cx="373.5" cy="1193.5" r="4.17"/>
<circle cx="522.5" cy="1193.5" r="4.17"/>
<circle cx="551.5" cy="1193.5" r="4.17"/>
<circle cx="611.5" cy="1193.5" r="4.17"/>
<circle cx="647.5" cy="1193.5" r="4.17"/>
<circle cx="728.5" cy="1193.5" r="4.17"/>
<circle cx="947.5" cy="1193.5" r="4.17"/>
<circle cx="972.5" cy="1193.5" r="4.17"/>
<circle cx="1083.5" cy="1193.5" r="4.17"/>
<circle cx="1102.5" cy="1193.5" r="4.17"/>
<circle cx="1132.5" cy="1193.5" r="4.17"/>
<circle cx="1202.5" cy="1193.5" r="4.17"/>
<circle cx="234.5" cy="1194.5" r="4.17"/>
<circle cx="241.5" cy="1194.5" r="4.17"/>
<circle cx="248.5" cy="1194.5" r="4.17"/>
<circle cx="333.5" cy="1194.5" r="4.17"/>
<circle cx="342.5" cy="1194.5" r="4.17"/>
<circle cx="352.5" cy="1194.5" r="4.17"/>
<circle cx="357.5" cy="1194.5" r="4.17"/>
<circle cx="378.5" cy="1194.5" r="4.17"/>
<circle cx="384.5" cy="1194.5" r="4.17"/>
<circle cx="404.5" cy="1194.5" r="4.17"/>
<circle cx="406.5" cy="1194.5" r="4.17"/>
<circle cx="454.5" cy="1194.5" r="4.17"/>
<circle cx="484.5" cy="1194.5" r="4.17"/>
<circle cx="504.5" cy="1194.5" r="4.17"/>
<circle cx="514.5" cy="1194.5" r="4.17"/>
<circle cx="550.5" cy="1194.5" r="4.17"/>
<circle cx="600.5" cy="1194.5" r="4.17"/>
<circle cx="616.5" cy="1194.5" r="4.17"/>
<circle cx="644.5" cy="1194.5" r="4.17"/>
<circle cx="726.5" cy="1194.5" r="4.17"/>
<circle cx="736.5" cy="1194.5" r="4.17"/>
<circle cx="803.5" cy="1194.5" r="4.17"/>
<circle cx="812.5" cy="1194.5" r="4.17"/>
<circle cx="828.5" cy="1194.5" r="4.17"/>
<circle cx="970.5" cy="1194.5" r="4.17"/>
<circle cx="1018.5" cy="1194.5" r="4.17"/>
<circle cx="1034.5" cy="1194.5" r="4.17"/>
<circle cx="1183.5" cy="1194.5" r="4.17"/>
<circle cx="214.5" cy="1195.5" r="4.17"/>
<circle cx="246.5" cy="1195.5" r="4.17"/>
<circle cx="310.5" cy="1195.5" r="4.17"/>
<circle cx="330.5" cy="1195.5" r="4.17"/>
<circle cx="373.5" cy="1195.5" r="4.17"/>
<circle cx="430.5" cy="1195.5" r="4.17"/>
<circle cx="490.5" cy="1195.5" r="4.17"/>
<circle cx="505.5" cy="1195.5" r="4.17"/>
<circle cx="652.5" cy="1195.5" r="4.17"/>
<circle cx="657.5" cy="1195.5" r="4.17"/>
<circle cx="689.5" cy="1195.5" r="4.17"/>
<circle cx="764.5" cy="1195.5" r="4.17"/>
<circle cx="799.5" cy="1195.5" r="4.17"/>
<circle cx="882.5" cy="1195.5" r="4.17"/>
<circle cx="1041.5" cy="1195.5" r="4.17"/>
<circle cx="1169.5" cy="1195.5" r="4.17"/>
<circle cx="288.5" cy="1196.5" r="4.17"/>
<circle cx="298.5" cy="1196.5" r="4.17"/>
<circle cx="306.5" cy="1196.5" r="4.17"/>
<circle cx="311.5" cy="1196.5" r="4.17"/>
<circle cx="336.5" cy="1196.5" r="4.17"/>
<circle cx="337.5" cy="1196.5" r="4.17"/>
<circle cx="395.5" cy="1196.5" r="4.17"/>
<circle cx="440.5" cy="1196.5" r="4.17"/>
<circle cx="456.5" cy="1196.5" r="4.17"/>
<circle cx="480.5" cy="1196.5" r="4.17"/>
<circle cx="486.5" cy="1196.5" r="4.17"/>
<circle cx="510.5" cy="1196.5" r="4.17"/>
<circle cx="516.5" cy="1196.5" r="4.17"/>
<circle cx="518.5" cy="1196.5" r="4.17"/>
<circle cx="596.5" cy="1196.5" r="4.17"/>
<circle cx="615.5" cy="1196.5" r="4.17"/>
<circle cx="711.5" cy="1196.5" r="4.17"/>
<circle cx="760.5" cy="1196.5" r="4.17"/>
<circle cx="814.5" cy="1196.5" r="4.17"/>
<circle cx="885.5" cy="1196.5" r="4.17"/>
<circle cx="955.5" cy="1196.5" r="4.17"/>
<circle cx="966.5" cy="1196.5" r="4.17"/>
<circle cx="1032.5" cy="1196.5" r="4.17"/>
<circle cx="1115.5" cy="1196.5" r="4.17"/>
<circle cx="1174.5" cy="1196.5" r="4.17"/>
<circle cx="1235.5" cy="1196.5" r="4.17"/>
<circle cx="1266.5" cy="1196.5" r="4.17"/>
<circle cx="279.5" cy="1197.5" r="4.17"/>
<circle cx="292.5" cy="1197.5" r="4.17"/>
<circle cx="302.5" cy="1197.5" r="4.17"/>
<circle cx="342.5" cy="1197.5" r="4.17"/>
<circle cx="380.5" cy="1197.5" r="4.17"/>
<circle cx="390.5" cy="1197.5" r="4.17"/>
<circle cx="438.5" cy="1197.5" r="4.17"/>
<circle cx="661.5" cy="1197.5" r="4.17"/>
<circle cx="696.5" cy="1197.5" r="4.17"/>
<circle cx="833.5" cy="1197.5" r="4.17"/>
<circle cx="1013.5" cy="1197.5" r="4.17"/>
<circle cx="1045.5" cy="1197.5" r="4.17"/>
<circle cx="1075.5" cy="1197.5" r="4.17"/>
<circle cx="208.5" cy="1198.5" r="4.17"/>
<circle cx="220.5" cy="1198.5" r="4.17"/>
<circle cx="234.5" cy="1198.5" r="4.17"/>
<circle cx="252.5" cy="1198.5" r="4.17"/>
<circle cx="283.5" cy="1198.5" r="4.17"/>
</g>
<g class="grid">
<rect x="289.94" y="168" width="1.11" height="1078"/>
<rect x="440.94" y="168" width="1.11" height="1078"/>
<rect x="591.94" y="168" width="1.11" height="1078"/>
<rect x="741.94" y="168" width="1.11" height="1078"/>
<rect x="892.94" y="168" width="1.11" height="1078"/>
<rect x="1043.94" y="168" width="1.11" height="1078"/>
<rect x="1193.94" y="168" width="1.11" height="1078"/>
<rect x="1344.94" y="168" width="1.11" height="1078"/>
<rect x="200" y="1196.94" width="1240" height="1.11"/>
<rect x="200" y="963.94" width="1240" height="1.11"/>
<rect x="200" y="730.94" width="1240" height="1.11"/>
<rect x="200" y="498.94" width="1240" height="1.11"/>
<rect x="200" y="265.94" width="1240" height="1.11"/>
</g>
<g class="tick">
<rect x="289.94" y="1246.5" width="1.11" height="4.86"/>
<rect x="440.94" y="1246.5" width="1.11" height="4.86"/>
<rect x="591.94" y="1246.5" width="1.11" height="4.86"/>
<rect x="741.94" y="1246.5" width="1.11" height="4.86"/>
<rect x="892.94" y="1246.5" width="1.11" height="4.86"/>
<rect x="1043.94" y="1246.5" width="1.11" height="4.86"/>
<rect x="1193.94" y="1246.5" width="1.11" height="4.86"/>
<rect x="1344.94" y="1246.5" width="1.11" height="4.86"/>
<rect x="195.64" y="1196.94" width="4.86" height="1.11"/>
<rect x="195.64" y="963.94" width="4.86" height="1.11"/>
<rect x="195.64" y="730.94" width="4.86" height="1.11"/>
<rect x="195.64" y="498.94" width="4.86" height="1.11"/>
<rect x="195.64" y="265.94" width="4.86" height="1.11"/>
</g>
<g class="t" text-anchor="middle" style="letter-spacing:-0.8px">
<text transform="translate(289.52 1279.65) scale(1 1.05)">10</text>
<text transform="translate(440.6 1279.82) scale(1 1.05)">15</text>
<text transform="translate(590.42 1279.9) scale(1 1.05)">20</text>
<text transform="translate(741.63 1279.58) scale(1 1.05)">25</text>
<text transform="translate(892.49 1279.57) scale(1 1.05)">30</text>
<text transform="translate(1043.55 1279.76) scale(1 1.05)">35</text>
<text transform="translate(1194.35 1279.88) scale(1 1.05)">40</text>
<text transform="translate(1345.49 1279.54) scale(1 1.05)">45</text>
</g>
<g class="t" text-anchor="end">
<text transform="translate(190.47 1208.77) scale(1 1.05)">0</text>
<text style="letter-spacing:-1px" transform="translate(188.86 975.8) scale(1 1.05)">20</text>
<text style="letter-spacing:-1.4px" transform="translate(189.1 743.07) scale(1 1.05)">40</text>
<text transform="translate(190.83 510.96) scale(1 1.05)">60</text>
<text transform="translate(190.77 277.6) scale(1 1.05)">80</text>
</g>
<text class="t" text-anchor="middle" dx="0.8 -0.8" transform="translate(818.71 1315.99) scale(1 1.05)">mass2</text>
<text class="t" text-anchor="middle" transform="translate(137.51 710.27) rotate(-90) scale(1 1.05)">raw_value</text>
<g>
<rect x="200" y="1062.11" width="1240" height="2.78" fill="#1f77b4"/>
<rect x="200" y="1075.11" width="1240" height="2.78" fill="#ff7f0e"/>
<rect x="200" y="1111.11" width="1240" height="2.78" fill="#2ca02c"/>
<rect x="200" y="1126.11" width="1240" height="2.78" fill="#d62728"/>
<rect x="200" y="1156.11" width="1240" height="2.78" fill="#9467bd"/>
</g>
<rect class="spine" x="200.5" y="168.5" width="1240" height="1078"/>
<rect x="1066.5" y="183.5" width="359" height="241" rx="6.11" ry="6.11" fill="#fff" stroke="#ccc" stroke-width="1.3889" opacity="0.8"/>
<g>
<rect x="1078" y="208.11" width="64" height="2.78" fill="#1f77b4"/>
<rect x="1078" y="254.11" width="64" height="2.78" fill="#ff7f0e"/>
<rect x="1078" y="300.11" width="64" height="2.78" fill="#2ca02c"/>
<rect x="1078" y="347.11" width="64" height="2.78" fill="#d62728"/>
<rect x="1078" y="393.11" width="64" height="2.78" fill="#9467bd"/>
</g>
<g class="t">
<text transform="translate(1164.06 219.51) scale(1 1.05)">1 per month</text>
<text transform="translate(1164.09 265.57) scale(1 1.05)">1 per week</text>
<text transform="translate(1163.9 311.85) scale(1 1.05)">1 per day</text>
<text transform="translate(1164 357.76) scale(1 1.05)">100 per month</text>
<text transform="translate(1163.86 404.88) scale(1 1.05)">1000 per month</text>
</g>
<text class="title" text-anchor="middle" x="800.41" y="140.82">Learning mass2</text>
</svg>
</body></html>
